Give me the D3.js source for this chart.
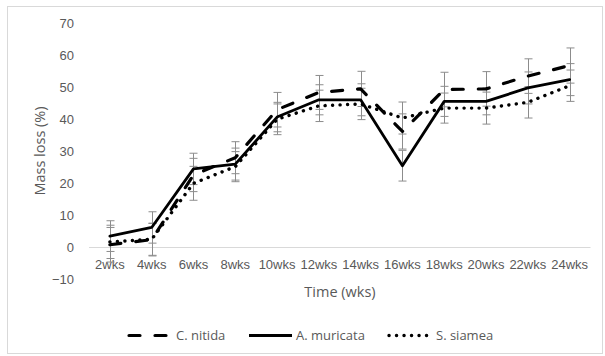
<!DOCTYPE html>
<html>
<head>
<meta charset="utf-8">
<script src="https://cdn.jsdelivr.net/npm/d3@7"></script>
<style>
  body { margin: 0; background: #fff; }
  svg { display: block; font-family: "Open Sans", sans-serif; }
  .tick text { fill: #595959; font-size: 13px; }
</style>
</head>
<body>
<svg id="chart" width="605" height="356"></svg>
<script>
// Data
const weeks = ['2wks','4wks','6wks','8wks','10wks','12wks','14wks','16wks','18wks','20wks','22wks','24wks'];
const nitida   = [0.8, 2.4, 22.6, 28, 43, 48.4, 49.5, 36.2, 49.3, 49.5, 53.5, 56.8];
const muricata = [3.5, 6.2, 24.5, 26, 40.7, 46.1, 46.1, 25.5, 45.6, 45.6, 49.8, 52.4];
const siamea   = [1.7, 2.5, 20, 25.2, 40, 44.2, 44.8, 40.4, 43.5, 43.5, 45.3, 50.5];
const nitidaErr   = [5.4, 5.1, 5.2, 5, 5.4, 5.3, 5.5, 5.5, 5.4, 5.4, 5.4, 5.5];
const muricataErr = [4.8, 4.9, 4.9, 5, 4.6, 4.7, 5, 4.8, 4.7, 4.2, 5, 5];
const siameaErr   = [5.2, 5, 5.3, 4.7, 4.8, 4.9, 4.9, 5, 4.7, 5, 4.9, 4.9];
const yTicks = [-10, 0, 10, 20, 30, 40, 50, 60, 70];

const series = [
  { name: 'C. nitida', values: nitida, err: nitidaErr, dash: '11 15', width: 3.2 },
  { name: 'A. muricata', values: muricata, err: muricataErr, dash: null, width: 2.8 },
  { name: 'S. siamea', values: siamea, err: siameaErr, dash: '0.1 7.4', width: 3.4 }
];

const svg = d3.select('#chart');

// chart border
svg.append('rect')
  .attr('x', 7.5).attr('y', 6.5).attr('width', 595).attr('height', 347)
  .attr('fill', 'none').attr('stroke', '#d9d9d9');

const x = d3.scaleBand().domain(weeks).range([89, 590.5]).padding(0);
const y = d3.scaleLinear().domain([-10, 70]).range([279.3, 23.3]);
const cx = d => x(d) + x.bandwidth() / 2;

// zero line
svg.append('line')
  .attr('x1', 89).attr('x2', 590.5)
  .attr('y1', Math.round(y(0)) + 0.5).attr('y2', Math.round(y(0)) + 0.5)
  .attr('stroke', '#d9d9d9');

// y axis
const yAxis = svg.append('g')
  .attr('transform', 'translate(89,0)')
  .call(d3.axisLeft(y).tickValues(yTicks).tickSize(0).tickPadding(15));
yAxis.select('.domain').remove();
yAxis.selectAll('text').attr('dy', '0.35em');

// x axis labels
const xAxis = svg.append('g')
  .attr('transform', `translate(0,${y(0)})`)
  .call(d3.axisBottom(x).tickSize(0).tickPadding(12));
xAxis.select('.domain').remove();

// axis titles
svg.append('text')
  .attr('x', 340).attr('y', 297)
  .attr('text-anchor', 'middle')
  .attr('fill', '#595959').attr('font-size', 14.5)
  .text('Time (wks)');
svg.append('text')
  .attr('transform', 'translate(45,151) rotate(-90)')
  .attr('text-anchor', 'middle')
  .attr('fill', '#595959').attr('font-size', 14.5)
  .text('Mass loss (%)');

// error bars
const capW = 4;
series.forEach(s => {
  const g = svg.append('g').attr('stroke', '#8c8c8c').attr('stroke-width', 1);
  weeks.forEach((w, i) => {
    const px = Math.round(cx(w)) + 0.5;
    const top = y(s.values[i] + s.err[i]);
    const bot = y(s.values[i] - s.err[i]);
    g.append('line').attr('x1', px).attr('x2', px).attr('y1', top).attr('y2', bot);
    g.append('line').attr('x1', px - capW).attr('x2', px + capW).attr('y1', top).attr('y2', top);
    g.append('line').attr('x1', px - capW).attr('x2', px + capW).attr('y1', bot).attr('y2', bot);
  });
});

// lines
const line = d3.line().x((d, i) => cx(weeks[i])).y(d => y(d));
series.forEach(s => {
  svg.append('path')
    .datum(s.values)
    .attr('d', line)
    .attr('fill', 'none')
    .attr('stroke', '#000')
    .attr('stroke-width', s.width)
    .attr('stroke-linecap', 'round')
    .attr('stroke-linejoin', 'round')
    .attr('stroke-dasharray', s.dash);
});

// legend
const legendX = [129, 249, 389];
const lg = svg.append('g').attr('transform', 'translate(0,335.5)');
series.forEach((s, i) => {
  lg.append('line')
    .attr('x1', legendX[i]).attr('x2', legendX[i] + 43)
    .attr('y1', 0).attr('y2', 0)
    .attr('stroke', '#000')
    .attr('stroke-width', s.width)
    .attr('stroke-linecap', s.dash ? 'round' : 'butt')
    .attr('stroke-dasharray', s.dash);
  lg.append('text')
    .attr('x', legendX[i] + 47).attr('y', 0).attr('dy', '0.35em')
    .attr('fill', '#595959').attr('font-size', 13)
    .text(s.name);
});
</script>
</body>
</html>
